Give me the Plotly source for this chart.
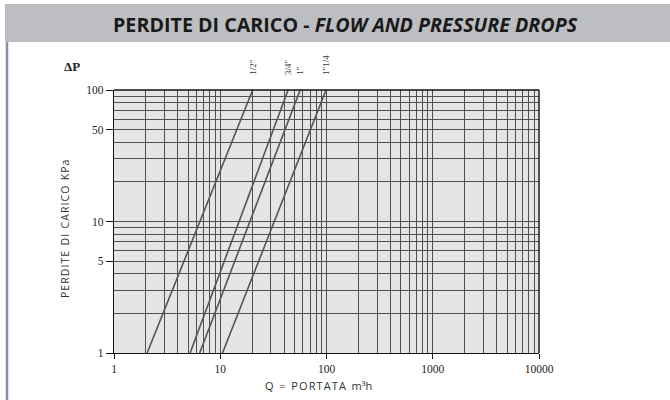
import math
import plotly.graph_objects as go

# ---- data ----
delta_p = [1, 100]                      # kPa at both ends of each line
q_half = [2.05, 20.2]                   # 1/2"
q_three_quarter = [5.2, 43.5]           # 3/4"
q_one = [6.4, 56.5]                     # 1"
q_one_quarter = [10.5, 99]              # 1"1/4
series_names = ['1/2"', '3/4"', '1"', '1"1/4']
x_tick_vals = [1, 10, 100, 1000, 10000]
y_tick_vals = [1, 5, 10, 50, 100]

W, H = 670, 400
L, R, T, B = 114, 539, 90, 353   # plot-area pixel box


def px(xp):
    return (xp - L) / (R - L)


def py(yp):
    return (B - yp) / (B - T)


fig = go.Figure()
line_color = "#555555"
for q in [q_half, q_three_quarter, q_one, q_one_quarter]:
    fig.add_trace(go.Scatter(x=q, y=delta_p, mode="lines",
                             line=dict(color=line_color, width=1.6),
                             showlegend=False, hoverinfo="skip"))

grid_col = "#505050"
fig.update_layout(
    width=W, height=H,
    margin=dict(l=L, r=W - R, t=T, b=H - B, pad=0),
    paper_bgcolor="white",
    plot_bgcolor="#e5e5e7",
    showlegend=False,
    xaxis=dict(type="log", range=[0, 4], tickvals=x_tick_vals,
               ticktext=[str(v) for v in x_tick_vals],
               showgrid=True, gridcolor=grid_col, gridwidth=1.4,
               minor=dict(dtick="D1", showgrid=True, gridcolor=grid_col,
                          gridwidth=1.4, ticks=""),
               ticks="outside", ticklen=5, tickcolor="#111", tickwidth=1,
               showline=True, linecolor="#111", linewidth=1.2,
               zeroline=False,
               tickfont=dict(family="Liberation Serif", size=11.5, color="#222")),
    yaxis=dict(type="log", range=[0, 2], tickvals=y_tick_vals,
               ticktext=[str(v) for v in y_tick_vals],
               showgrid=True, gridcolor=grid_col, gridwidth=1.4,
               minor=dict(dtick="D1", showgrid=True, gridcolor=grid_col,
                          gridwidth=1.4, ticks=""),
               ticks="outside", ticklen=7, tickcolor="#111", tickwidth=1,
               showline=True, linecolor="#111", linewidth=1.2,
               mirror=False, zeroline=False,
               tickfont=dict(family="Liberation Serif", size=11.5, color="#222")),
)

shapes = [
    # title bar
    dict(type="rect", xref="paper", yref="paper",
         x0=px(5), x1=px(670), y0=py(42), y1=py(4),
         fillcolor="#bdbec2", line=dict(width=0), layer="below"),
    # left frame line
    dict(type="line", xref="paper", yref="paper",
         x0=px(7), x1=px(7), y0=py(42), y1=py(400),
         line=dict(color="#8a8ea0", width=2.5)),
    # right border of plot
    dict(type="line", xref="paper", yref="paper",
         x0=1, x1=1, y0=0, y1=1, line=dict(color="#111", width=1.4)),
    # top border of plot
    dict(type="line", xref="paper", yref="paper",
         x0=0, x1=1, y0=1, y1=1, line=dict(color="#111", width=1.4)),
]

y_title = "\u200a".join("PERDITE") + "  " + "\u200a".join("DI") + "  " + \
    "\u200a".join("CARICO") + "  " + "\u200a".join("KPa")
x_title = "Q  =  " + "\u200a".join("PORTATA") + "  m³h"

annotations = [
    dict(text="<b>PERDITE DI CARICO - <i>FLOW AND PRESSURE DROPS</i></b>",
         xref="paper", yref="paper", x=px(345), y=py(24),
         xanchor="center", yanchor="middle", showarrow=False,
         font=dict(family="Open Sans", size=19.7, color="#1a1a1a")),
    dict(text="<b>ΔP</b>", xref="paper", yref="paper", x=px(62), y=py(66),
         xanchor="left", yanchor="middle", showarrow=False,
         font=dict(family="Liberation Serif", size=13, color="#222")),
    dict(text=y_title,
         xref="paper", yref="paper", x=px(65), y=py(229),
         xanchor="center", yanchor="middle", textangle=-90, showarrow=False,
         font=dict(family="Open Sans", size=10.5, color="#333")),
    dict(text=x_title,
         xref="paper", yref="paper", x=px(318), y=py(385),
         xanchor="center", yanchor="middle", showarrow=False,
         font=dict(family="Open Sans", size=11, color="#333")),
]

for name, q in zip(series_names, [q_half, q_three_quarter, q_one, q_one_quarter]):
    annotations.append(dict(
        text=name, xref="x", yref="paper", x=math.log10(q[1]), y=py(77),
        xanchor="center", yanchor="bottom", textangle=-90, showarrow=False,
        font=dict(family="Liberation Serif", size=9, color="#333")))

fig.update_layout(shapes=shapes, annotations=annotations)
fig.write_html("out.html", config={"displayModeBar": False},
               post_script="document.body.style.margin='0';")
